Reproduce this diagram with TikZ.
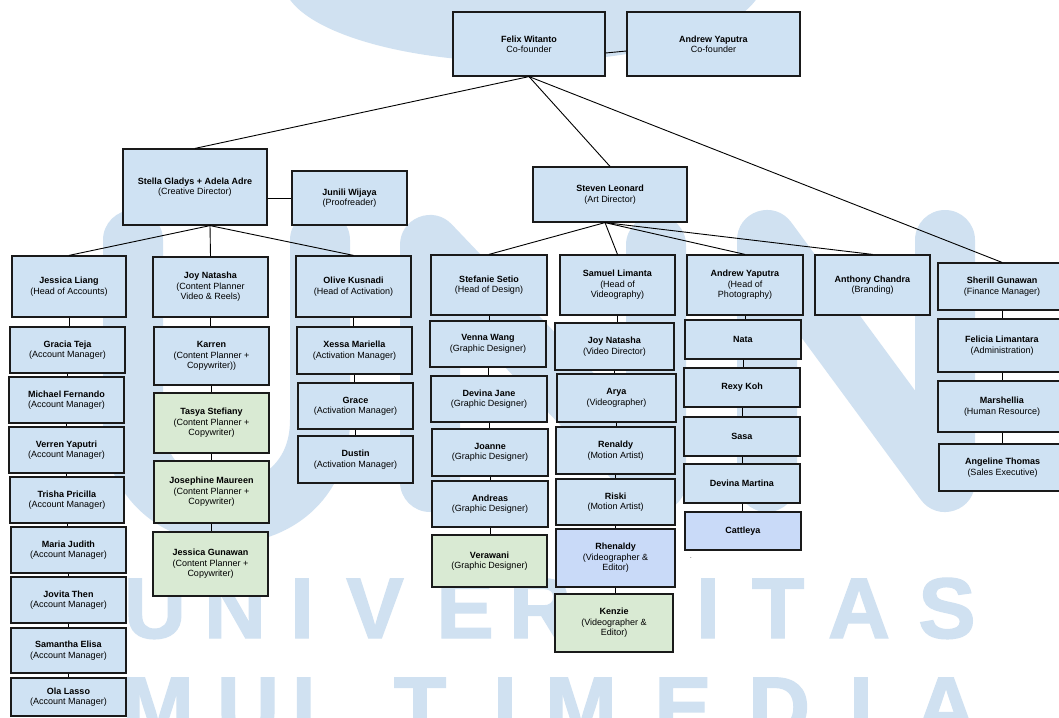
\documentclass[tikz,border=0pt]{standalone}
\usepackage{fontspec}
\setmainfont{Liberation Sans}
\newfontfamily\wmfont[BoldFeatures={FakeBold=1.6}]{Liberation Sans}
\usetikzlibrary{calc}
\definecolor{bfill}{HTML}{CFE2F3}
\definecolor{gfill}{HTML}{D9EAD3}
\definecolor{pfill}{HTML}{C9DAF8}
\definecolor{wm}{RGB}{208,225,241}
\definecolor{bord}{HTML}{1A1A1A}
\tikzset{
  box/.style={draw=bord, line width=1.2pt, fill=bfill, inner sep=0pt, align=center,
    font=\fontsize{9}{10.4}\selectfont, text=black},
  gbox/.style={box, fill=gfill},
  pbox/.style={box, fill=pfill},
  conn/.style={draw=black, line width=0.9pt},
  wmstroke/.style={draw=wm, line width=60pt, line cap=round, line join=round},
  wmletter/.style={text=wm, font=\fontsize{86}{86}\selectfont\wmfont\bfseries, anchor=base, inner sep=0pt},
}
\newcommand\orgbox[7][box]{\node[#1, minimum width={#5-#3}, minimum height={#6-#4}] (#2) at ({(#3+#5)/2},{(#4+#6)/2}) {#7};}
\begin{document}
\begin{tikzpicture}[x=1pt,y=-1pt]
\useasboundingbox (0,0) rectangle (1059,717);
\fill[white] (0,0) rectangle (1059,717);
% watermark
\fill[wm] (523,-20) ellipse [x radius=240pt, y radius=82pt];
\draw[wmstroke] (133,240) -- (133,420) .. controls (133,545) and (320,545) .. (320,420) -- (320,240);
\draw[wmstroke] (430,482) -- (430,245) -- (656,482) -- (656,245);
\draw[wmstroke] (767,482) -- (767,240) -- (945,482) -- (945,240);
\foreach \l/\x in {U/155,N/235,I/302,V/375,E/465,R/540,I/708,T/778,A/859,S/947}
  \node[wmletter] (w1\x) at (\x,638) {\l};
\foreach \l/\x in {M/158,U/248,L/318,T/420,I/505,M/581,E/683,D/779,I/861,A/946}
  \node[wmletter] (w2\x) at (\x,737) {\l};
% boxes
\orgbox{felix}{453}{12}{605}{76}{\textbf{Felix Witanto}\\Co-founder}
\orgbox{andrew}{627}{12}{800}{76}{\textbf{Andrew Yaputra}\\Co-founder}
\orgbox{stella}{123}{149}{267}{225}{\textbf{Stella Gladys + Adela Adre}\\(Creative Director)}
\orgbox{junili}{292}{171}{407}{225}{\textbf{Junili Wijaya}\\(Proofreader)}
\orgbox{steven}{533}{167}{687}{222}{\textbf{Steven Leonard}\\(Art Director)}
\orgbox{sg}{938}{263}{1066}{310}{\textbf{Sherill Gunawan}\\(Finance Manager)}
\orgbox{jl}{12}{256}{126}{317}{\textbf{Jessica Liang}\\(Head of Accounts)}
\orgbox{jn}{153}{257}{268}{317}{\textbf{Joy Natasha}\\(Content Planner\\Video \& Reels)}
\orgbox{ok}{296}{256}{411}{317}{\textbf{Olive Kusnadi}\\(Head of Activation)}
\orgbox{ss}{431}{255}{547}{315}{\textbf{Stefanie Setio}\\(Head of Design)}
\orgbox{sl}{560}{255}{675}{315}{\textbf{Samuel Limanta}\\(Head of\\Videography)}
\orgbox{ay}{687}{255}{803}{315}{\textbf{Andrew Yaputra}\\(Head of\\Photography)}
\orgbox{ac}{815}{255}{930}{315}{\textbf{Anthony Chandra}\\(Branding)}
% accounts
\orgbox{gt}{10}{327}{125}{373}{\textbf{Gracia Teja}\\(Account Manager)}
\orgbox{mf}{9}{377}{124}{423}{\textbf{Michael Fernando}\\(Account Manager)}
\orgbox{vy}{9}{427}{124}{473}{\textbf{Verren Yaputri}\\(Account Manager)}
\orgbox{tp}{10}{477}{124}{523}{\textbf{Trisha Pricilla}\\(Account Manager)}
\orgbox{mj}{11}{527}{126}{573}{\textbf{Maria Judith}\\(Account Manager)}
\orgbox{jt}{11}{577}{126}{623}{\textbf{Jovita Then}\\(Account Manager)}
\orgbox{se}{11}{628}{126}{673}{\textbf{Samantha Elisa}\\(Account Manager)}
\orgbox{ol}{11}{678}{126}{716}{\textbf{Ola Lasso}\\(Account Manager)}
% content
\orgbox{ka}{154}{327}{269}{385}{\textbf{Karren}\\(Content Planner +\\Copywriter))}
\orgbox[gbox]{ts}{154}{393}{269}{453}{\textbf{Tasya Stefiany}\\(Content Planner +\\Copywriter)}
\orgbox[gbox]{jm}{154}{461}{269}{523}{\textbf{Josephine Maureen}\\(Content Planner +\\Copywriter)}
\orgbox[gbox]{jg}{153}{532}{268}{596}{\textbf{Jessica Gunawan}\\(Content Planner +\\Copywriter)}
% activation
\orgbox{xm}{297}{327}{412}{374}{\textbf{Xessa Mariella}\\(Activation Manager)}
\orgbox{gr}{298}{383}{413}{429}{\textbf{Grace}\\(Activation Manager)}
\orgbox{du}{298}{436}{413}{483}{\textbf{Dustin}\\(Activation Manager)}
% design
\orgbox{vw}{430}{321}{546}{367}{\textbf{Venna Wang}\\(Graphic Designer)}
\orgbox{dj}{431}{376}{547}{422}{\textbf{Devina Jane}\\(Graphic Designer)}
\orgbox{jo}{432}{429}{548}{476}{\textbf{Joanne}\\(Graphic Designer)}
\orgbox{an}{432}{481}{548}{527}{\textbf{Andreas}\\(Graphic Designer)}
\orgbox[gbox]{ve}{432}{535}{547}{587}{\textbf{Verawani}\\(Graphic Designer)}
% video
\orgbox{jnv}{555}{323}{674}{370}{\textbf{Joy Natasha}\\(Video Director)}
\orgbox{ar}{557}{374}{676}{422}{\textbf{Arya}\\(Videographer)}
\orgbox{re}{556}{427}{675}{474}{\textbf{Renaldy}\\(Motion Artist)}
\orgbox{ri}{556}{479}{675}{525}{\textbf{Riski}\\(Motion Artist)}
\orgbox[pbox]{rh}{556}{529}{675}{587}{\textbf{Rhenaldy}\\(Videographer \&\\Editor)}
\orgbox[gbox]{ke}{555}{594}{673}{652}{\textbf{Kenzie}\\(Videographer \&\\Editor)}
% photo
\orgbox{na}{685}{320}{801}{359}{\textbf{Nata}}
\orgbox{rk}{684}{368}{800}{407}{\textbf{Rexy Koh}}
\orgbox{sa}{684}{417}{800}{456}{\textbf{Sasa}}
\orgbox{dm}{684}{464}{800}{503}{\textbf{Devina Martina}}
\orgbox[pbox]{ca}{685}{512}{801}{550}{\textbf{Cattleya}}
% finance
\orgbox{fl}{938}{319}{1066}{372}{\textbf{Felicia Limantara}\\(Administration)}
\orgbox{ma}{938}{381}{1066}{432}{\textbf{Marshellia}\\(Human Resource)}
\orgbox{at}{939}{444}{1066}{491}{\textbf{Angeline Thomas}\\(Sales Executive)}
\node[font=\fontsize{6}{6}\selectfont, inner sep=0pt] (dot) at (691,558) {.};
% connectors
\draw[conn] ([yshift=-9pt]felix.east) -- ([yshift=-7pt]andrew.west);
\draw[conn] (junili.west -| stella.east) -- (junili.west);
\foreach \c in {stella,steven,sg} \draw[conn] (felix.south) -- (\c.north);
\foreach \c in {jl,jn,ok} \draw[conn] ([xshift=15pt]stella.south) -- (\c.north);
\foreach \c in {ss,sl,ay,ac} \draw[conn] ([xshift=-5pt]steven.south) -- (\c.north);
\foreach \a/\b in {jl/gt,gt/mf,mf/vy,vy/tp,tp/mj,mj/jt,jt/se,se/ol,
  jn/ka,ka/ts,ts/jm,jm/jg, ok/xm,xm/gr,gr/du,
  ss/vw,vw/dj,dj/jo,jo/an,an/ve, sl/jnv,jnv/ar,ar/re,re/ri,ri/rh,rh/ke,
  ay/na,na/rk,rk/sa,sa/dm,dm/ca, sg/fl,fl/ma,ma/at}
  \draw[conn] (\a.south) -- (\a.south |- \b.north);
\end{tikzpicture}
\end{document}
